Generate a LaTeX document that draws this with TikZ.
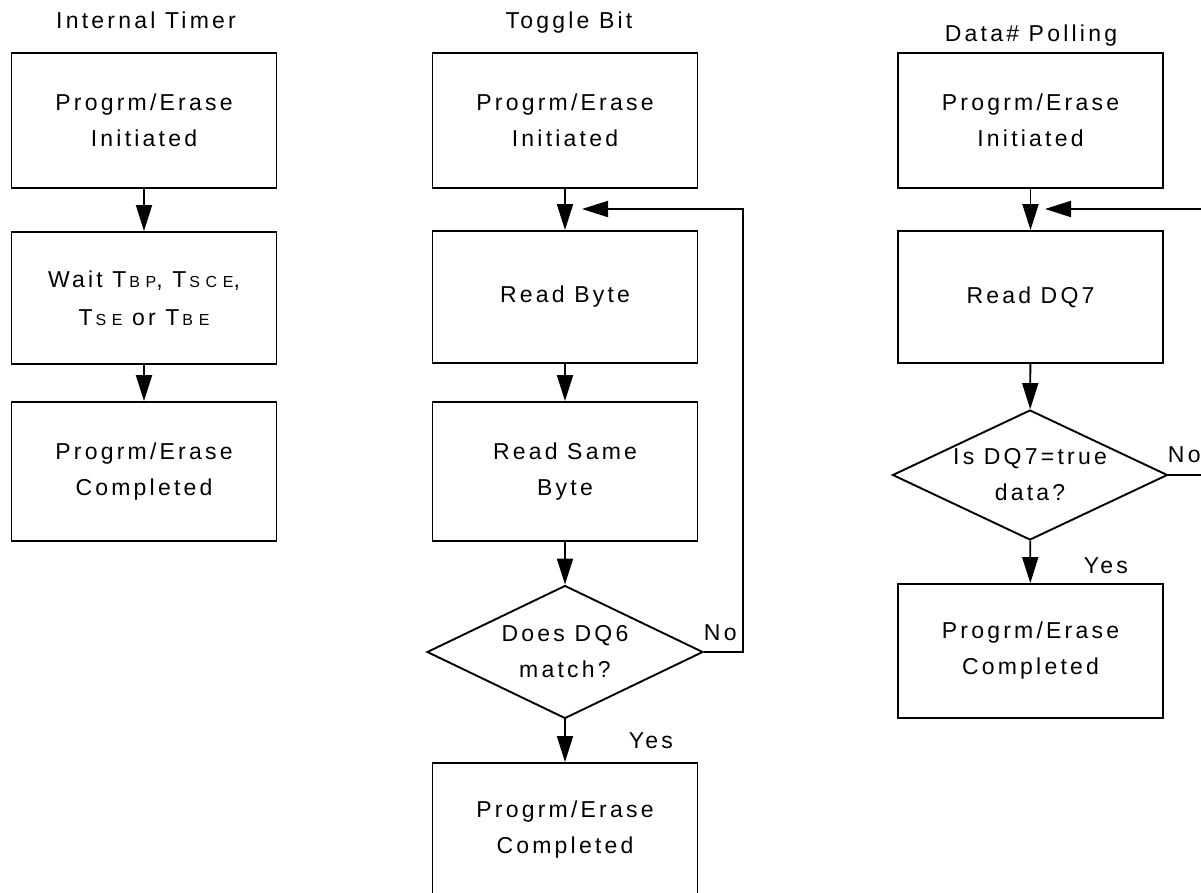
\documentclass[tikz,border=0pt]{standalone}
\usepackage{fontspec}
\setmainfont{Liberation Sans}[LetterSpace=14]
\usetikzlibrary{arrows.meta,shapes.geometric}
\newcommand\tsub[1]{\kern3pt{\fontsize{16}{16}\selectfont\addfontfeature{LetterSpace=35}#1}}

\begin{document}
\begin{tikzpicture}[x=1pt,y=-1pt,line width=1.9pt,
	box/.style={draw,rectangle,minimum width=265pt,inner sep=0pt,align=center,font=\fontsize{23}{36}\selectfont},
	test/.style={draw,diamond,minimum width=276pt,minimum height=133pt,inner sep=0pt},
	txt/.style={inner sep=0pt,align=center,font=\fontsize{23}{36}\selectfont},
	flow/.style={-{Triangle[length=26pt,width=16pt]}}]
		%%%%% FRAME %%%%%
		\useasboundingbox (0,0) rectangle (1201,893);
		\clip (0,0) rectangle (1201,893);
		
		%%%%% INTERNAL TIMER %%%%%
		\node[txt,anchor=base] (ttitle) at (146,29) {Internal Timer};
		\node[box,minimum height=135pt] (tstart) at (144,120.5) {Progrm/Erase\\Initiated};
		\node[box,minimum height=132pt,font=\fontsize{23}{38}\selectfont] (twait) at (144,298) {Wait T\tsub{BP}, T\tsub{SCE},\\T\tsub{SE} or T\tsub{BE}};
		\node[box,minimum height=139pt] (tdone) at (144,471.5) {Progrm/Erase\\Completed};
		\draw[flow] (tstart) -- (twait);
		\draw[flow] (twait) -- (tdone);
		
		%%%%% TOGGLE BIT %%%%%
		\node[txt,anchor=base] (gtitle) at (569,29) {Toggle Bit};
		\node[box,minimum height=135pt] (gstart) at (565,120.5) {Progrm/Erase\\Initiated};
		\node[box,minimum height=132pt] (gread) at (565,297) {Read Byte};
		\node[box,minimum height=139pt] (gsame) at (565,471.5) {Read Same\\Byte};
		\node[test] (gtest) at (565,652) {};
		\node[txt] (gtesttxt) at (gtest.center) {Does DQ6\\match?};
		\node[box,minimum height=134pt] (gdone) at (565,830) {Progrm/Erase\\Completed};
		\coordinate (gloop) at (582,209);
		\draw[flow] (gstart) -- (gread);
		\draw[flow] (gread) -- (gsame);
		\draw[flow] (gsame) -- (gtest);
		\draw[flow] (gtest) -- (gdone);
		\draw[flow] (gtest.east) -- ++(39,0) |- (gloop);
		\node[txt,anchor=base west] (gno) at (703,640) {No};
		\node[txt,anchor=base west] (gyes) at (628,748) {Yes};
		
		%%%%% DATA# POLLING %%%%%
		\node[txt,anchor=base] (dtitle) at (1031,42) {Data\# Polling};
		\node[box,minimum height=135pt] (dstart) at (1030.5,120.5) {Progrm/Erase\\Initiated};
		\node[box,minimum height=132pt] (dread) at (1030.5,297) {Read DQ7};
		\node[test,minimum width=275pt,minimum height=130pt] (dtest) at (1030,475) {};
		\node[txt] (dtesttxt) at (dtest.center) {Is DQ7=true\\data?};
		\node[box,minimum height=134pt] (ddone) at (1030.5,651) {Progrm/Erase\\Completed};
		\coordinate (dloop) at (1045,209);
		\draw[flow] (dstart) -- (dread);
		\draw[flow] (dread) -- (dtest);
		\draw[flow] (dtest) -- (ddone);
		\draw[flow] (dtest.east) -- ++(50,0) |- (dloop);
		\node[txt,anchor=base west] (dno) at (1167,462) {No};
		\node[txt,anchor=base west] (dyes) at (1083,573) {Yes};
\end{tikzpicture}
\end{document}
